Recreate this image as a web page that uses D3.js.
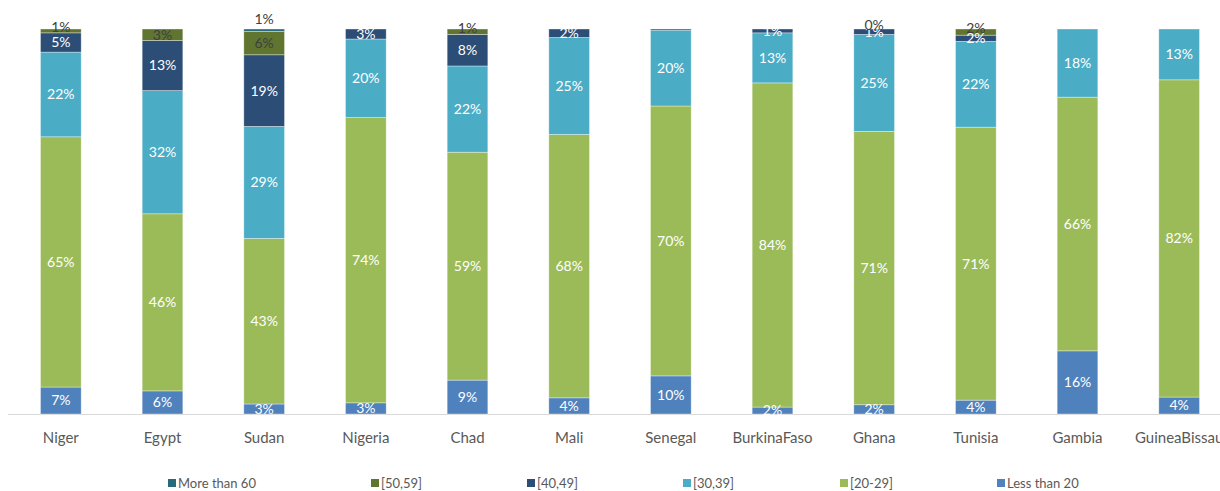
<!DOCTYPE html>
<html>
<head>
<meta charset="utf-8">
<script src="https://cdn.jsdelivr.net/npm/d3@7"></script>
<style>
  body { margin: 0; background: #fff; }
  svg { display: block; }
</style>
</head>
<body>
<div id="chart"></div>
<script>
var countries = ["Niger", "Egypt", "Sudan", "Nigeria", "Chad", "Mali", "Senegal", "BurkinaFaso", "Ghana", "Tunisia", "Gambia", "GuineaBissau"];

// share of each age group, % (bottom of the stack first)
var lessThan20 = [7, 6, 2.6, 2.9, 8.8, 4.2, 9.9, 1.8, 2.4, 3.6, 16.4, 4.4];
var age20to29 = [65, 46, 43.0, 74.1, 59.2, 68.4, 70.1, 84.2, 71.0, 70.9, 65.9, 82.4];
var age30to39 = [22, 32, 29.1, 20.4, 22.4, 25.2, 19.7, 13.0, 25.2, 22.3, 17.7, 13.2];
var age40to49 = [5, 13, 18.6, 2.6, 8.2, 2.2, 0.3, 1.0, 1.4, 1.6, null, null];
var age50to59 = [1, 3, 6.1, null, 1.4, null, null, null, 0, 1.6, null, null];
var moreThan60 = [null, null, 0.6, null, null, null, null, null, null, null, null, null];

var seriesNames = ["Less than 20", "[20-29]", "[30,39]", "[40,49]", "[50,59]", "More than 60"];
var seriesValues = [lessThan20, age20to29, age30to39, age40to49, age50to59, moreThan60];
var seriesColors = ["#4F81BD", "#9BBB59", "#4BACC6", "#2C4D75", "#5F7530", "#276A7C"];

var width = 1220,
    height = 491;

var svg = d3.select("#chart").append("svg")
  .attr("width", width)
  .attr("height", height)
  .style("font-family", "Lato, 'Open Sans', sans-serif");

var x = d3.scaleBand()
  .domain(countries)
  .range([10, 1230])
  .paddingInner(0.6)
  .paddingOuter(0.3);

var y = d3.scaleLinear()
  .domain([0, 100])
  .range([414, 29]);

var color = d3.scaleOrdinal()
  .domain(seriesNames)
  .range(seriesColors);

// table for d3.stack
var table = countries.map(function(c, i) {
  var row = { country: c };
  seriesNames.forEach(function(s, j) {
    row[s] = seriesValues[j][i];
  });
  return row;
});

var stack = d3.stack()
  .keys(seriesNames)
  .value(function(d, key) { return d[key] || 0; });

var layers = stack(table);

// axis line
svg.append("line")
  .attr("x1", 8)
  .attr("x2", width)
  .attr("y1", y(0) + 0.5)
  .attr("y2", y(0) + 0.5)
  .style("stroke", "#D9D9D9")
  .style("stroke-width", 1);

var groups = svg.selectAll(".layer")
  .data(layers)
  .enter()
  .append("g")
  .attr("class", "layer")
  .style("fill", function(d) { return color(d.key); });

groups.selectAll("rect")
  .data(function(d) { return d.filter(function(p) { return p.data[d.key] != null && p.data[d.key] > 0; }); })
  .enter()
  .append("rect")
  .attr("x", function(d) { return x(d.data.country); })
  .attr("width", x.bandwidth())
  .attr("y", function(d) { return y(d[1]); })
  .attr("height", function(d) { return y(d[0]) - y(d[1]); })
  .style("stroke", "#ffffff")
  .style("stroke-opacity", 0.5)
  .style("stroke-width", 0.7);

// data labels
var darkLabel = ["[50,59]", "More than 60"];
layers.forEach(function(layer) {
  var key = layer.key;
  var pts = layer.filter(function(p) {
    var v = p.data[key];
    return v != null && (v >= 0.5 || v === 0);
  });
  svg.append("g")
    .selectAll("text")
    .data(pts)
    .enter()
    .append("text")
    .attr("x", function(d) { return x(d.data.country) + x.bandwidth() / 2; })
    .attr("y", function(d) {
      if (key === "More than 60") return y(d[1]) - 10;
      var mid = (y(d[0]) + y(d[1])) / 2;
      // thin top segments: label sits a bit higher
      if (key === "[50,59]" && y(d[0]) - y(d[1]) < 8) mid -= 4;
      return mid;
    })
    .attr("dy", "0.35em")
    .style("text-anchor", "middle")
    .style("font-size", "14px")
    .style("fill", darkLabel.indexOf(key) >= 0 ? "#404040" : "#ffffff")
    .text(function(d) { return Math.round(d.data[key]) + "%"; });
});

// category labels
svg.append("g")
  .selectAll("text")
  .data(countries)
  .enter()
  .append("text")
  .attr("x", function(d) { return x(d) + x.bandwidth() / 2; })
  .attr("y", 443)
  .style("text-anchor", "middle")
  .style("font-size", "15px")
  .style("fill", "#595959")
  .text(function(d) { return d; });

// legend, top series first
var legendOrder = seriesNames.slice().reverse();
var legendX = [168, 371, 527, 683, 840, 997];

var legend = svg.append("g")
  .selectAll("g")
  .data(legendOrder)
  .enter()
  .append("g")
  .attr("transform", function(d, i) { return "translate(" + legendX[i] + ",483)"; });

legend.append("rect")
  .attr("x", 0)
  .attr("y", -4)
  .attr("width", 8)
  .attr("height", 8)
  .style("fill", function(d) { return color(d); });

legend.append("text")
  .attr("x", 10)
  .attr("dy", "0.35em")
  .style("font-size", "13px")
  .style("fill", "#595959")
  .text(function(d) { return d; });
</script>
</body>
</html>
